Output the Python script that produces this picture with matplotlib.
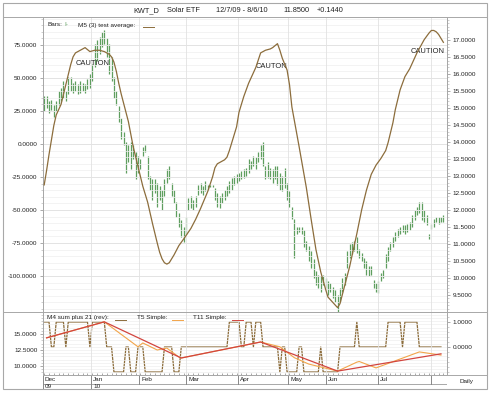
import numpy as np
import matplotlib
matplotlib.use('Agg')
import matplotlib.pyplot as plt
from matplotlib.lines import Line2D
from matplotlib.patches import Rectangle
from matplotlib.ticker import MultipleLocator, FormatStrFormatter, FixedLocator

plt.rcParams['font.family'] = ['Liberation Sans', 'DejaVu Sans']

# ---------------------------------------------------------------- data
# daily price bars (right scale), one per trading day 12/7/09 - 8/6/10
bar_low = [14.9, 15.0, 14.85, 14.95, 14.75, 14.9, 15.1, 15.2, 15.3, 15.2,
           15.4, 15.5, 15.45, 15.5, 15.4, 15.45, 15.5, 15.45, 15.55, 15.6,
           15.8, 16.2, 16.4, 16.6, 16.8, 16.9, 16.5, 16.0, 15.8, 15.3,
           15.1, 14.6, 14.1, 13.9, 13.1, 13.4, 13.2, 13.5, 12.9, 13.1,
           13.2, 13.6, 13.7, 12.9, 12.6, 12.3, 12.5, 12.1, 12.3, 12.0,
           12.4, 12.8, 12.9, 12.4, 12.2, 11.8, 11.5, 11.2, 11.05, 11.3,
           12.0, 12.05, 12.0, 12.1, 12.45, 12.5, 12.45, 12.55, 12.6, 12.68,
           12.68, 12.3, 12.1, 12.05, 12.2, 12.3, 12.4, 12.5, 12.6, 12.75,
           12.8, 12.85, 12.9, 12.95, 13.0, 13.1, 13.2, 13.3, 13.2, 13.4,
           13.5, 13.3, 12.9, 12.95, 12.9, 12.8, 12.9, 12.75, 12.6, 12.55,
           12.65, 12.3, 12.1, 11.75, 10.6, 11.3, 11.35, 11.3, 10.9, 10.8,
           10.5, 10.3, 10.0, 9.8, 9.7, 9.6, 9.8, 9.7, 9.5, 9.6,
           9.4, 9.3, 9.0, 9.3, 9.6, 9.8, 10.3, 10.6, 10.7, 10.8,
           10.75, 10.6, 10.5, 10.3, 10.1, 10.05, 10.1, 9.7, 9.6, 9.55,
           9.9, 10.0, 10.3, 10.5, 10.8, 10.9, 11.1, 11.2, 11.3, 11.35,
           11.3, 11.35, 11.4, 11.5, 11.7, 11.85, 11.9, 11.7, 11.65, 11.55,
           11.15, 11.45, 11.5, 11.65, 11.6, 11.65, 11.65]
bar_high = [15.35, 15.35, 15.2, 15.25, 15.1, 15.2, 15.5, 15.6, 15.8, 15.5,
            15.9, 15.9, 15.75, 15.8, 15.7, 15.8, 15.75, 15.7, 15.85, 16.0,
            16.3, 16.9, 17.0, 17.1, 17.25, 17.3, 17.05, 16.9, 16.5, 15.9,
            15.5, 15.05, 14.7, 14.3, 14.0, 13.9, 14.0, 13.9, 13.7, 13.6,
            13.5, 13.85, 13.9, 13.6, 13.0, 12.9, 12.9, 12.8, 12.7, 12.6,
            12.9, 13.2, 13.3, 12.8, 12.6, 12.25, 11.9, 11.7, 11.5, 11.8,
            12.35, 12.4, 12.3, 12.4, 12.75, 12.8, 12.7, 12.85, 12.75, 12.74,
            12.75, 12.65, 12.5, 12.4, 12.5, 12.6, 12.7, 12.85, 12.95, 13.0,
            13.05, 13.1, 13.15, 13.2, 13.25, 13.5, 13.45, 13.6, 13.55, 13.7,
            13.9, 14.0, 13.3, 13.4, 13.25, 13.2, 13.3, 13.3, 13.1, 13.0,
            13.25, 12.8, 12.55, 12.1, 11.75, 11.5, 11.5, 11.5, 11.4, 11.1,
            10.95, 10.8, 10.55, 10.2, 10.1, 10.05, 10.1, 10.0, 9.9, 9.85,
            9.75, 9.65, 9.5, 9.7, 10.0, 10.15, 10.8, 11.0, 11.05, 11.1,
            11.2, 10.85, 10.75, 10.6, 10.5, 10.35, 10.35, 9.95, 9.85, 9.9,
            10.15, 10.25, 10.7, 10.9, 11.05, 11.2, 11.35, 11.45, 11.5, 11.55,
            11.55, 11.6, 11.65, 11.85, 12.0, 12.1, 12.25, 12.25, 12.0, 11.85,
            11.3, 11.6, 11.75, 11.8, 11.8, 11.8, 11.85]

# M5 (3) test average (left scale), read at bar positions
m5_x = [0, 1, 2, 3, 4, 5, 7, 9, 11, 12, 13, 15, 16, 17, 19, 21, 23, 25, 26, 27,
        28, 29, 30, 31, 32, 34, 35, 37, 39, 41, 43, 45, 47, 48, 49, 50, 51, 52,
        54, 56, 58, 61, 63, 65, 68, 70, 71, 72, 73, 75, 76, 77, 78, 80, 81, 83,
        85, 88, 90, 92, 94, 95, 97, 98, 99, 101, 102, 103, 104, 106, 109, 111,
        113, 115, 117, 118, 120, 121, 122, 123, 124, 126, 127, 130, 132, 134,
        136, 138, 140, 142, 143, 145, 146, 148, 150, 152, 155, 158, 160, 161,
        162, 163, 164, 165, 166]
m5_y = [-31, -20, -8, 3, 14, 22, 30, 45, 60, 66, 69, 71, 72, 73, 70, 71, 71, 70, 69,
        68, 66, 62, 55, 46, 38, 24, 17, -2, -17, -32, -44, -60, -75, -82, -87,
        -90, -91, -90, -84, -77, -72, -64, -57, -49, -36, -25, -18, -15, -14, -12,
        -10, -5, 1, 13, 24, 36, 46, 58, 69, 71, 72, 73, 76, 71, 65, 56, 45, 28,
        18, -2, -33, -57, -80, -97, -110, -116, -120, -122, -124, -121, -114, -100,
        -93, -68, -50, -35, -23, -16, -11, -5, 1, 16, 26, 41, 51, 57, 69, 79, 84,
        86, 86, 85, 83, 80, 77]

# M4 sum plus 21 (rev) - step values, lower right scale
m4 = [1, 1, 1, 0, 0, 1, 1, 1, 1, 0,
      1, 1, 1, 1, 1, 1, 1, 1, 1, 0,
      1, 1, 1, 1, 1, 1, 0, 0, 0, -1,
      -1, -1, -1, -1, 0, 0, -1, -1, -1, 0,
      0, 0, -1, -1, -1, -1, -1, -1, -1, -1,
      0, 0, 0, 0, -1, -1, -1, 0, 0, 0,
      0, 0, 0, 0, 0, 0, 0, 0, 0, 0,
      0, 0, 0, 0, 0, 0, 0, 1, 1, 1,
      1, 1, 0, 0, 1, 1, 1, 0, 1, 1,
      1, 0, 0, 0, 0, 0, 0, 0, -1, 0,
      0, -1, -1, -1, -1, -1, 0, 0, -1, -1,
      -1, -1, -1, -1, -1, 0, -1, -1, -1, -1,
      -1, -1, -1, 0, 0, 0, 0, 0, 0, 0,
      1, 0, 0, 0, 0, 0, 0, 0, 0, 0,
      0, 0, 0, 1, 1, 1, 1, 1, 1, 0,
      1, 1, 1, 1, 1, 1, 0, 0, 0, 0,
      0, 0, 0, 0, 0, 0]

# T5 / T11 simple (lower left scale)
t5_x = [1, 25, 39, 41, 47, 51, 56, 57, 90, 98, 104, 110, 122, 130, 131, 138, 156, 165]
t5_y = [14.4, 16.9, 13.0, 13.6, 12.5, 12.8, 11.4, 11.25, 13.75, 13.0, 11.3, 10.3,
        9.2, 10.6, 10.7, 9.7, 12.2, 11.7]
t11_x = [1, 25, 57, 90, 122, 165]
t11_y = [14.4, 16.9, 11.25, 13.75, 9.2, 11.9]

months = ['Dec', 'Jan', 'Feb', 'Mar', 'Apr', 'May', 'Jun', 'Jul', '']
month_pos = [-0.5, 19.5, 39.5, 59, 80.5, 101.5, 117, 139, 161]
years = ['09', '10']

caution_x = [20, 94.5, 159.5]
caution_y = [61, 59, 70]
caution_txt = ['CAUTION', 'CAUTON', 'CAUTION']

# ---------------------------------------------------------------- layout
W, H = 490, 393
def fx(px):
    return px / W
def fy(py):
    return 1 - py / H

LINE = '#a8a8a8'
TXT = '#222222'
GREEN = '#5f9e5f'
BROWN = '#8c6d3c'
ORANGE = '#f2a54a'
RED = '#d2453f'
fs = 4.6

fig = plt.figure(figsize=(W / 100, H / 100), dpi=100)

x_lim = (-0.5, 167.5)
ax_l, ax_r_px = 43, 447

ax = fig.add_axes([fx(ax_l), fy(312), fx(ax_r_px) - fx(ax_l), fy(17) - fy(312)])
axr = ax.twinx()
axb = fig.add_axes([fx(ax_l), fy(375), fx(ax_r_px) - fx(ax_l), fy(312) - fy(375)])
axbr = axb.twinx()
axd = fig.add_axes([fx(ax_l), fy(389), fx(ax_r_px) - fx(ax_l), fy(375) - fy(389)])

# main panel
ax.set_xlim(*x_lim)
ax.set_ylim(-127.3, 96.2)
axr.set_ylim(9.0, 17.68)
for y in np.arange(-125, 96, 5):
    ax.axhline(y, color='#efefef', lw=0.5, zorder=0)
for y in np.arange(-100, 96, 25):
    ax.axhline(y, color='#e0e0e0', lw=0.6, zorder=0)
for p in month_pos[1:]:
    ax.axvline(p, color='#e2e2e2', lw=0.6, zorder=0)

idx = np.arange(len(bar_low))
axr.vlines(idx, bar_low, bar_high, color=GREEN, lw=0.9)
ax.plot(m5_x, m5_y, color=BROWN, lw=0.9, zorder=5)
ax.set_zorder(axr.get_zorder() + 1)
ax.patch.set_visible(False)

for cx, cy, t in zip(caution_x, caution_y, caution_txt):
    ax.text(cx, cy, t, fontsize=5.4, color=TXT, ha='center', va='center')

ax.yaxis.set_major_locator(FixedLocator(np.arange(-100, 76, 25)))
ax.yaxis.set_minor_locator(MultipleLocator(5))
ax.yaxis.set_major_formatter(FormatStrFormatter('%.4f'))
axr.yaxis.set_major_locator(FixedLocator(np.arange(9.5, 17.01, 0.5)))
axr.yaxis.set_minor_locator(MultipleLocator(0.1))
axr.yaxis.set_major_formatter(FormatStrFormatter('%.4f'))
ax.set_xticks([])
axr.set_xticks([])

# lower panel
axb.set_xlim(*x_lim)
axb.set_ylim(8.59, 18.44)
axbr.set_ylim(-1.12, 1.4)
for y in np.arange(9, 18.5, 0.5):
    axb.axhline(y, color='#efefef', lw=0.5, zorder=0)
for p in month_pos[1:]:
    axb.axvline(p, color='#e2e2e2', lw=0.6, zorder=0)
axbr.plot(np.arange(len(m4)), m4, color=BROWN, lw=0.9)
axb.plot(t5_x, t5_y, color=ORANGE, lw=0.8, zorder=4)
axb.plot(t11_x, t11_y, color=RED, lw=0.9, zorder=5)
axb.set_zorder(axbr.get_zorder() + 1)
axb.patch.set_visible(False)

axb.yaxis.set_major_locator(FixedLocator([10, 12.5, 15]))
axb.yaxis.set_minor_locator(MultipleLocator(0.5))
axb.yaxis.set_major_formatter(FormatStrFormatter('%.4f'))
axbr.yaxis.set_major_locator(FixedLocator([0, 1]))
axbr.yaxis.set_minor_locator(MultipleLocator(0.2))
axbr.yaxis.set_major_formatter(FormatStrFormatter('%.4f'))
axb.xaxis.set_major_locator(FixedLocator(month_pos))
axb.xaxis.set_minor_locator(MultipleLocator(2))
axb.tick_params(axis='x', which='both', direction='in', length=1.5, color='#999999',
                labelbottom=False)
axbr.set_xticks([])

for a in (ax, axr, axb, axbr):
    a.tick_params(axis='y', which='major', length=2.5, width=0.5, color='#888888',
                  labelsize=fs, labelcolor=TXT, pad=1.5)
    a.tick_params(axis='y', which='minor', length=1.2, width=0.4, color='#aaaaaa')
    for s in a.spines.values():
        s.set_color(LINE)
        s.set_linewidth(0.7)

# date axis
axd.set_xlim(*x_lim)
axd.set_ylim(14, 0)
axd.axis('off')
axd.axhline(9, color=LINE, lw=0.7)
axd.axvline(x_lim[1], color=LINE, lw=0.7)
for i, (p, m) in enumerate(zip(month_pos, months)):
    axd.plot([p, p], [0, 14 if i < 2 else 9], color='#888888', lw=0.7)
    axd.text(p + 0.8, 4.6, m, fontsize=fs, color=TXT, va='center', ha='left')
for p, yv in zip(month_pos[:2], years):
    axd.text(p + 0.8, 11.8, yv, fontsize=fs, color=TXT, va='center', ha='left')

# frame and header
fig.add_artist(Rectangle((fx(3), fy(389)), fx(487) - fx(3), fy(3) - fy(389),
                         transform=fig.transFigure, fill=False, ec=LINE, lw=0.8))
for yy in (17, 312):
    fig.add_artist(Line2D([fx(3), fx(487)], [fy(yy), fy(yy)], transform=fig.transFigure,
                          color=LINE, lw=0.7))
fig.add_artist(Line2D([fx(447), fx(487)], [fy(375), fy(375)], transform=fig.transFigure,
                      color=LINE, lw=0.7))
fig.text(fx(466), fy(382), 'Daily', fontsize=fs, color=TXT, ha='center', va='center')

header = [(133, 'KWT_D'), (167, 'Solar ETF'), (216, '12/7/09 - 8/6/10'),
          (283, '11.8500'), (317, '+0.1440')]
for px, t in header:
    fig.text(fx(px), fy(10.5), t, fontsize=5.3, color=TXT, ha='left', va='center')

# legends
fig.text(fx(47), fy(25), 'Bars:', fontsize=fs, color=TXT, va='center')
fig.text(fx(64), fy(25), 'I-', fontsize=fs, color=GREEN, va='center')
fig.text(fx(78), fy(25), 'M5 (3) test average:', fontsize=fs, color=TXT, va='center')
fig.add_artist(Line2D([fx(143), fx(154)], [fy(27), fy(27)], transform=fig.transFigure,
                      color=BROWN, lw=0.7))

fig.text(fx(47), fy(317.5), 'M4 sum plus 21 (rev):', fontsize=fs, color=TXT, va='center')
fig.add_artist(Line2D([fx(115), fx(126)], [fy(320), fy(320)], transform=fig.transFigure,
                      color=BROWN, lw=0.7))
fig.text(fx(137), fy(317.5), 'T5 Simple:', fontsize=fs, color=TXT, va='center')
fig.add_artist(Line2D([fx(172), fx(183)], [fy(320), fy(320)], transform=fig.transFigure,
                      color=ORANGE, lw=0.7))
fig.text(fx(193), fy(317.5), 'T11 Simple:', fontsize=fs, color=TXT, va='center')
fig.add_artist(Line2D([fx(232), fx(243)], [fy(320), fy(320)], transform=fig.transFigure,
                      color=RED, lw=0.7))

fig.savefig('out.png', dpi=100)
